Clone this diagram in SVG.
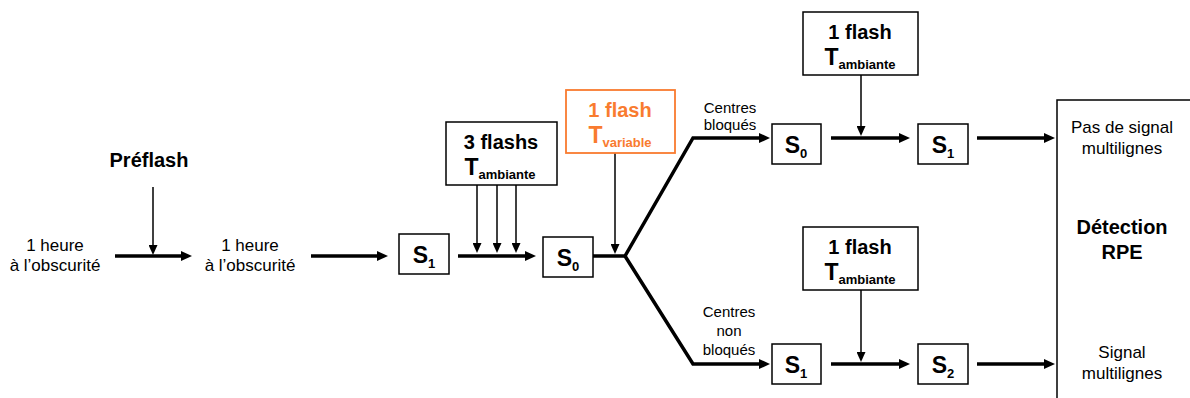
<svg xmlns="http://www.w3.org/2000/svg" width="1190" height="398" viewBox="0 0 1190 398">
<style>
text{font-family:"Liberation Sans",Arial,sans-serif;fill:#000}
.big{font-size:20px;font-weight:bold}
.sm{font-size:17px}
.xs{font-size:15px}
.S{font-size:23px;font-weight:bold}
.sub{font-size:13px;font-weight:bold}
.box{fill:#fff;stroke:#000;stroke-width:1.5}
.obox{fill:#fff;stroke:#F97B2F;stroke-width:1.8}
.thick{fill:none;stroke:#000;stroke-width:3.5;stroke-linejoin:miter}
.thin{fill:none;stroke:#000;stroke-width:1.5}
.or{fill:#F97B2F}
</style>
<defs>
<marker id="ah" markerUnits="userSpaceOnUse" markerWidth="11" markerHeight="10" refX="3" refY="5" orient="auto" viewBox="0 0 11 10"><path d="M0,0 L11,5 L0,10 z" fill="#000"/></marker>
<marker id="at" markerUnits="userSpaceOnUse" markerWidth="10" markerHeight="9" refX="2" refY="4.5" orient="auto" viewBox="0 0 10 9"><path d="M0,0 L10,4.5 L0,9 z" fill="#000"/></marker>
</defs>
<g id="connectors">
<path class="thick" d="M115,256 H184" marker-end="url(#ah)"/>
<path class="thin" d="M153,187 V247" marker-end="url(#at)"/>
<path class="thick" d="M311,256 H380" marker-end="url(#ah)"/>
<path class="thick" d="M458,256 H528" marker-end="url(#ah)"/>
<path class="thin" d="M477,185 V245" marker-end="url(#at)"/>
<path class="thin" d="M497,185 V245" marker-end="url(#at)"/>
<path class="thin" d="M516,185 V245" marker-end="url(#at)"/>
<path class="thin" d="M615,153 V246" marker-end="url(#at)"/>
<path class="thick" d="M593,256 H625 L693,138 H762" marker-end="url(#ah)"/>
<path class="thick" d="M625,256 L693,364 H762" marker-end="url(#ah)"/>
<path class="thick" d="M831,138 H902" marker-end="url(#ah)"/>
<path class="thin" d="M861,75 V128" marker-end="url(#at)"/>
<path class="thick" d="M977,138 H1047" marker-end="url(#ah)"/>
<path class="thick" d="M831,364 H902" marker-end="url(#ah)"/>
<path class="thin" d="M861,290 V354" marker-end="url(#at)"/>
<path class="thick" d="M977,364 H1047" marker-end="url(#ah)"/>
</g>
<g id="label-heure1"><text class="sm" x="55" y="251" text-anchor="middle">1 heure</text><text class="sm" x="55" y="271" text-anchor="middle">à l’obscurité</text></g>
<g id="label-preflash"><text class="big" x="149" y="167" text-anchor="middle">Préflash</text></g>
<g id="label-heure2"><text class="sm" x="250" y="251" text-anchor="middle">1 heure</text><text class="sm" x="250" y="271" text-anchor="middle">à l’obscurité</text></g>
<g id="node-S1a"><rect class="box" x="399" y="234" width="50" height="40"/><text class="S" x="424" y="263" text-anchor="middle">S<tspan class="sub" dy="5">1</tspan></text></g>
<g id="node-3flashs"><rect class="box" x="446" y="122" width="111" height="63"/><text class="big" x="501" y="149" text-anchor="middle">3 flashs</text><text class="S" x="500" y="175" text-anchor="middle">T<tspan class="sub" dy="4">ambiante</tspan></text></g>
<g id="node-S0a"><rect class="box" x="543" y="237" width="50" height="40"/><text class="S" x="568" y="266" text-anchor="middle">S<tspan class="sub" dy="5">0</tspan></text></g>
<g id="node-flashvar"><rect class="obox" x="566" y="90" width="109" height="63"/><text class="big or" x="620" y="117" text-anchor="middle">1 flash</text><text class="S or" x="620" y="143" text-anchor="middle">T<tspan class="sub or" dy="4">variable</tspan></text></g>
<g id="label-bloques"><text class="xs" x="730" y="113" text-anchor="middle">Centres</text><text class="xs" x="730" y="130" text-anchor="middle">bloqués</text></g>
<g id="label-nonbloques"><text class="xs" x="729" y="317" text-anchor="middle">Centres</text><text class="xs" x="729" y="336" text-anchor="middle">non</text><text class="xs" x="729" y="355" text-anchor="middle">bloqués</text></g>
<g id="node-S0b"><rect class="box" x="772" y="124" width="49" height="40"/><text class="S" x="796" y="153" text-anchor="middle">S<tspan class="sub" dy="5">0</tspan></text></g>
<g id="node-flash1"><rect class="box" x="803" y="12" width="115" height="63"/><text class="big" x="860" y="39" text-anchor="middle">1 flash</text><text class="S" x="860" y="65" text-anchor="middle">T<tspan class="sub" dy="4">ambiante</tspan></text></g>
<g id="node-S1b"><rect class="box" x="918" y="124" width="50" height="40"/><text class="S" x="943" y="153" text-anchor="middle">S<tspan class="sub" dy="5">1</tspan></text></g>
<g id="node-S1c"><rect class="box" x="772" y="344" width="49" height="40"/><text class="S" x="796" y="373" text-anchor="middle">S<tspan class="sub" dy="5">1</tspan></text></g>
<g id="node-flash2"><rect class="box" x="803" y="227" width="115" height="63"/><text class="big" x="860" y="254" text-anchor="middle">1 flash</text><text class="S" x="860" y="280" text-anchor="middle">T<tspan class="sub" dy="4">ambiante</tspan></text></g>
<g id="node-S2"><rect class="box" x="918" y="344" width="50" height="40"/><text class="S" x="943" y="373" text-anchor="middle">S<tspan class="sub" dy="5">2</tspan></text></g>
<g id="node-RPE"><rect class="box" x="1057" y="100" width="200" height="360"/>
<text class="sm" x="1122" y="133" text-anchor="middle">Pas de signal</text><text class="sm" x="1122" y="154" text-anchor="middle">multilignes</text>
<text class="big" x="1122" y="234" text-anchor="middle">Détection</text><text class="big" x="1122" y="259" text-anchor="middle">RPE</text>
<text class="sm" x="1122" y="358" text-anchor="middle">Signal</text><text class="sm" x="1122" y="379" text-anchor="middle">multilignes</text></g>
</svg>
